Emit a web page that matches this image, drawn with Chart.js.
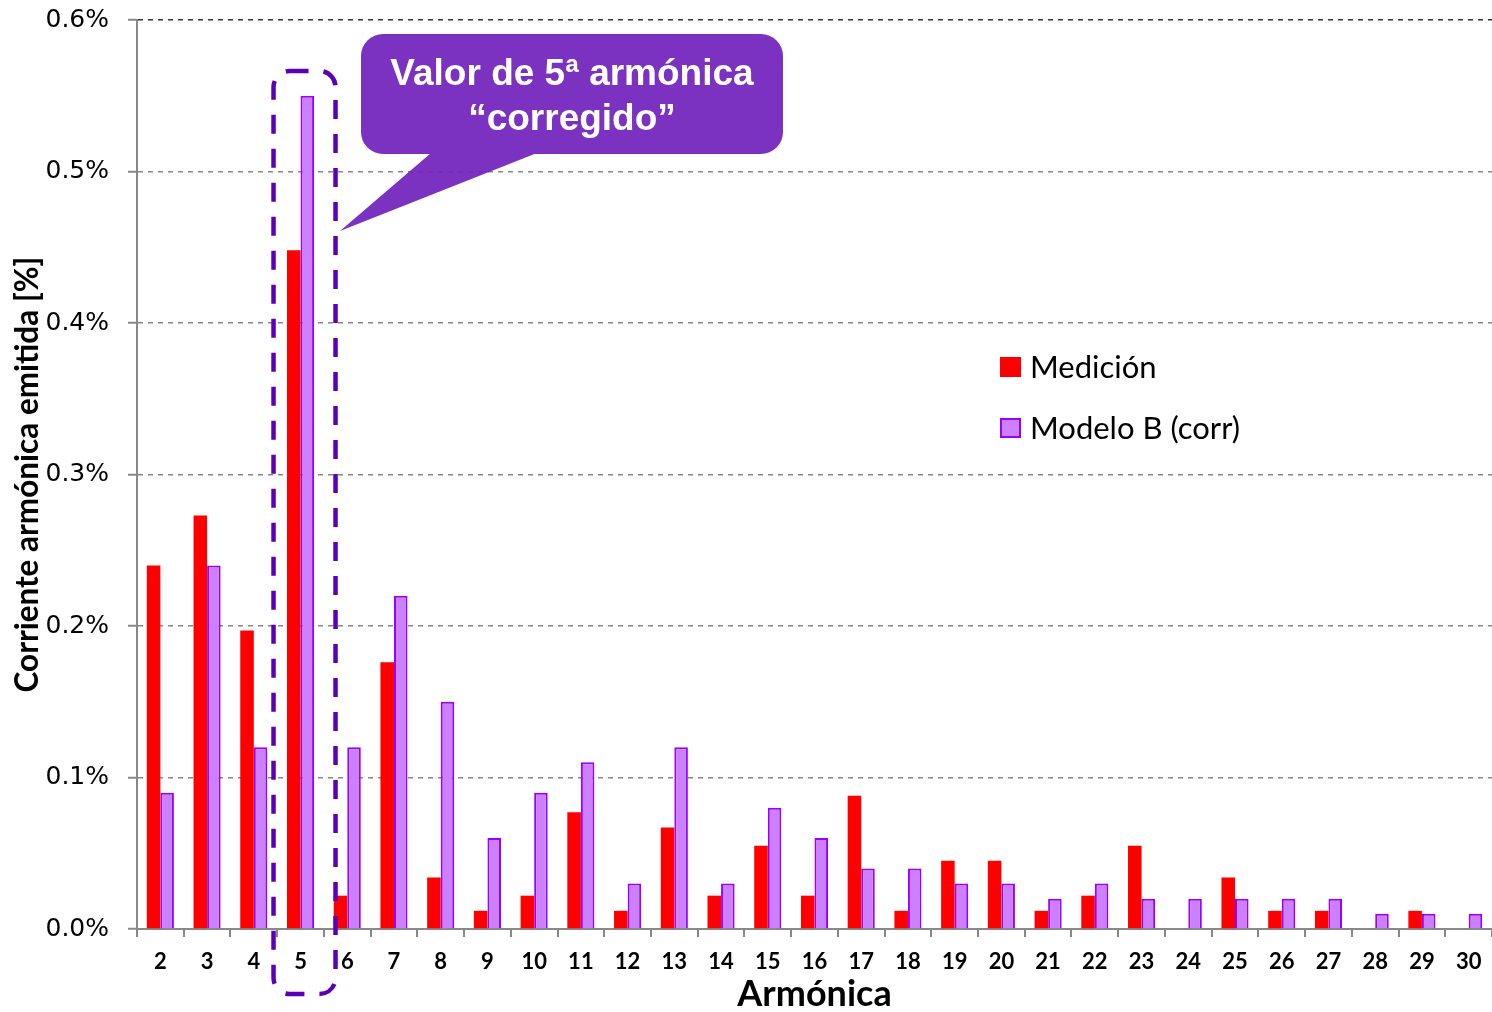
<!DOCTYPE html>
<html><head><meta charset="utf-8">
<script src="https://cdn.jsdelivr.net/npm/chart.js@4/dist/chart.umd.min.js"></script>
<style>html,body{margin:0;padding:0;background:#fff;overflow:hidden}canvas{display:block}</style>
</head><body>
<canvas id="c" width="1492" height="1012"></canvas>
<script>
const harmonics = ['2','3','4','5','6','7','8','9','10','11','12','13','14','15','16','17','18','19','20','21','22','23','24','25','26','27','28','29','30'];
const medicion = [0.240,0.273,0.197,0.448,0.022,0.176,0.034,0.012,0.022,0.077,0.012,0.067,0.022,0.055,0.022,0.088,0.012,0.045,0.045,0.012,0.022,0.055,0,0.034,0.012,0.012,0,0.012,0];
const modeloB = [0.09,0.24,0.12,0.55,0.12,0.22,0.15,0.06,0.09,0.11,0.03,0.12,0.03,0.08,0.06,0.04,0.04,0.03,0.03,0.02,0.03,0.02,0.02,0.02,0.02,0.02,0.01,0.01,0.01];
const seriesLabels = ['Medición','Modelo B (corr)'];
const yMin = 0, yMax = 0.6, yStep = 0.1;
const xTitle = 'Armónica';
const yTitle = 'Corriente armónica emitida [%]';
const calloutLines = ['Valor de 5ª armónica','“corregido”'];
const highlightedHarmonic = '5';

const RED = '#FF0000', PURPLE_FILL = '#CC80FF', PURPLE_LINE = '#9900FF';
const LAB_FONT = 'Lato';

const annot = {
  id: 'annot',
  afterDraw(chart) {
    const {ctx, scales: {x, y}} = chart;
    const cx = x.getPixelForValue(harmonics.indexOf(highlightedHarmonic));
    // dashed highlight box
    ctx.save();
    ctx.strokeStyle = '#5B00B7';
    ctx.lineWidth = 4.5;
    ctx.setLineDash([19, 15]);
    const l = cx - 27, r = cx + 35, t = y.getPixelForValue(0.5663), b = y.bottom + 65;
    ctx.beginPath();
    ctx.roundRect(l, t, r - l, b - t, 16);
    ctx.stroke();
    ctx.restore();

    // callout
    ctx.save();
    ctx.fillStyle = 'rgba(112,33,188,0.92)';
    const bx = 361, by = 34, bw = 422, bh = 120;
    ctx.beginPath();
    ctx.roundRect(bx, by, bw, bh, 22);
    ctx.moveTo(431, by + bh - 1);
    ctx.lineTo(537, by + bh - 1);
    ctx.lineTo(340, 231);
    ctx.closePath();
    ctx.fill();
    ctx.fillStyle = '#fff';
    ctx.font = 'bold 37px "Liberation Sans"';
    ctx.textAlign = 'center';
    ctx.textBaseline = 'middle';
    ctx.fillText(calloutLines[0], 572, 75);
    ctx.fillText(calloutLines[1], 572, 120);
    ctx.restore();

    // legend
    ctx.save();
    ctx.font = '31px ' + LAB_FONT;
    ctx.textBaseline = 'middle';
    ctx.fillStyle = RED;
    ctx.fillRect(1000, 357, 21, 20);
    ctx.fillStyle = PURPLE_FILL;
    ctx.fillRect(1001, 419, 19, 18);
    ctx.strokeStyle = PURPLE_LINE; ctx.lineWidth = 2;
    ctx.strokeRect(1001, 419, 19, 18);
    ctx.fillStyle = '#000';
    ctx.fillText(chart.data.datasets[0].label, 1030, 368);
    ctx.fillText(chart.data.datasets[1].label, 1030, 429);
    ctx.restore();
  }
};

new Chart(document.getElementById('c'), {
  type: 'bar',
  data: {
    labels: harmonics,
    datasets: [
      {label: seriesLabels[0], data: medicion, backgroundColor: RED, borderWidth: 0},
      {label: seriesLabels[1], data: modeloB, backgroundColor: PURPLE_FILL, borderColor: PURPLE_LINE, borderWidth: 2}
    ]
  },
  options: {
    responsive: false,
    animation: false,
    devicePixelRatio: 1,
    datasets: {bar: {categoryPercentage: 0.58, barPercentage: 1}},
    layout: {padding: {top: 20, right: 0, left: 0, bottom: 0}},
    plugins: {legend: {display: false}, tooltip: {enabled: false}},
    scales: {
      x: {
        offset: true,
        grid: {offset: true, drawOnChartArea: false, drawTicks: true, tickLength: 8, color: '#888', tickColor: '#888', lineWidth: 2},
        border: {color: '#888', width: 2},
        ticks: {color: '#000', font: {family: LAB_FONT, weight: 'bold', size: 22}, padding: 12, maxRotation: 0, autoSkip: false},
        title: {display: true, text: xTitle, color: '#000', font: {family: LAB_FONT, weight: 'bold', size: 36, lineHeight: 1.0}, padding: {top: 0, bottom: 0}},
        afterFit(s) { s.height = 83; s.paddingLeft = 0; s.paddingRight = 0; }
      },
      y: {
        min: yMin, max: yMax,
        grid: {
          color: (c) => c.tick && Math.abs(c.tick.value - yMax) < 1e-9 ? '#333' : (c.tick && c.tick.value === 0 ? 'rgba(0,0,0,0)' : '#888'),
          lineWidth: 1.5, drawTicks: true, tickLength: 9, tickColor: '#888', tickWidth: 2
        },
        border: {color: '#888', width: 2, dash: [5, 5]},
        ticks: {stepSize: yStep, color: '#000', font: {family: 'DejaVu Sans', size: 25}, padding: 19,
          callback: (v) => v.toFixed(1) + '%'},
        title: {display: true, text: yTitle, color: '#000', font: {family: LAB_FONT, weight: 'bold', size: 31.5, lineHeight: 1.0}, padding: {top: 12, bottom: 0}},
        afterFit(s) { s.width = 137; s.paddingTop = 0; s.paddingBottom = 0; }
      }
    }
  },
  plugins: [annot]
});
</script>
</body></html>
